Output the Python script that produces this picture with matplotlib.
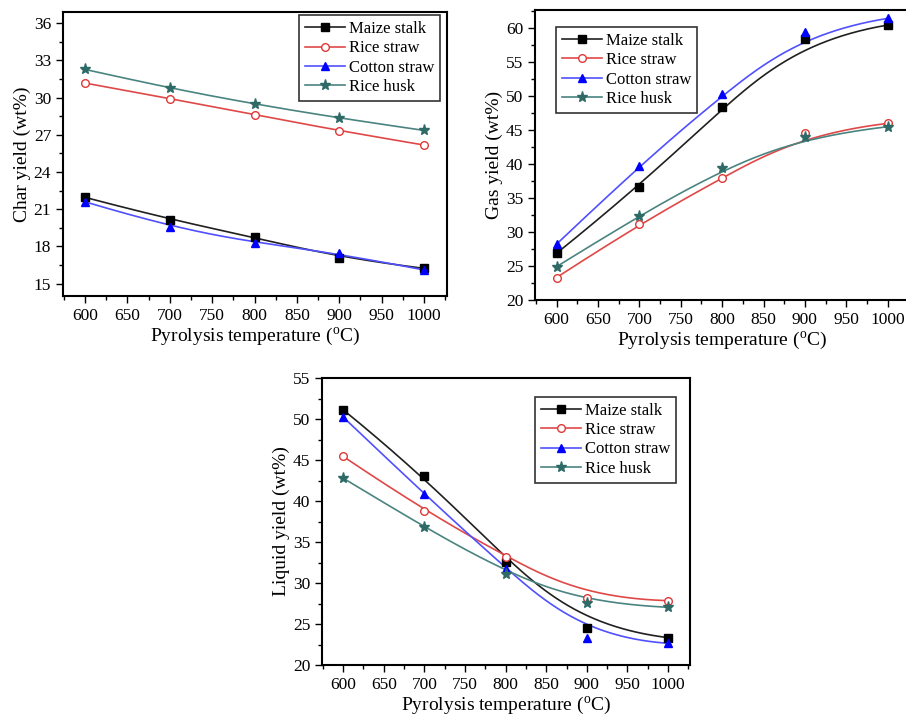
import numpy as np
import matplotlib
matplotlib.use('Agg')
import matplotlib.pyplot as plt
from matplotlib.ticker import MultipleLocator, AutoMinorLocator

# Pyrolysis temperatures (deg C)
temperature = [600, 700, 800, 900, 1000]
seriesNames = ['Maize stalk', 'Rice straw', 'Cotton straw', 'Rice husk']

# Char yield (wt%)
charMaize = [21.96, 20.16, 18.77, 17.09, 16.23]
charRiceStraw = [31.18, 29.93, 28.64, 27.33, 26.18]
charCotton = [21.60, 19.57, 18.26, 17.43, 16.10]
charRiceHusk = [32.28, 30.76, 29.47, 28.35, 27.36]

# Gas yield (wt%)
gasMaize = [26.86, 36.65, 48.40, 58.34, 60.39]
gasRiceStraw = [23.30, 31.17, 37.97, 44.48, 45.95]
gasCotton = [28.20, 39.74, 50.21, 59.41, 61.37]
gasRiceHusk = [24.90, 32.40, 39.44, 44.00, 45.46]

# Liquid yield (wt%)
liquidMaize = [51.13, 43.07, 32.60, 24.56, 23.34]
liquidRiceStraw = [45.44, 38.80, 33.23, 28.14, 27.85]
liquidCotton = [50.24, 40.84, 31.72, 23.34, 22.65]
liquidRiceHusk = [42.79, 36.81, 31.07, 27.53, 27.04]

plt.rcParams['font.family'] = ['Liberation Serif', 'DejaVu Serif']
plt.rcParams['mathtext.fontset'] = 'custom'
plt.rcParams['mathtext.rm'] = 'Liberation Serif'

# line colour, marker colour, marker, filled?
styles = [
    ('#202020', '#000000', 's', True),
    ('#e04848', '#e03838', 'o', False),
    ('#5050ff', '#0000ff', '^', True),
    ('#4a8480', '#2e6a66', '*', True),
]


def bspline(xs, ys, n=300):
    # clamped cubic B-spline using the data points as control points (Origin style)
    P = np.column_stack([xs, ys]).astype(float)
    k = 3
    m = len(P)
    knots = np.concatenate([[0.0] * k, np.linspace(0, 1, m - k + 1), [1.0] * k])
    t = np.linspace(0, 1, n)
    t[-1] = 1 - 1e-10
    N = np.zeros((n, len(knots) - 1))
    for i in range(len(knots) - 1):
        N[:, i] = (t >= knots[i]) & (t < knots[i + 1])
    for d in range(1, k + 1):
        Nn = np.zeros((n, len(knots) - 1 - d))
        for i in range(len(knots) - 1 - d):
            a = knots[i + d] - knots[i]
            b = knots[i + d + 1] - knots[i + 1]
            left = (t - knots[i]) / a * N[:, i] if a > 0 else 0
            right = (knots[i + d + 1] - t) / b * N[:, i + 1] if b > 0 else 0
            Nn[:, i] = left + right
        N = Nn
    C = N.dot(P)
    return C[:, 0], C[:, 1]


def draw(ax, data, ylabel, ylim, ystep, legendPos):
    for (name, ys, st) in zip(seriesNames, data, styles):
        lc, mc, mk, filled = st
        cx, cy = bspline(temperature, ys)
        ax.plot(cx, cy, color=lc, lw=1.2, zorder=2)
        ms = 8 if mk == '*' else 5.5
        ax.plot(temperature, ys, ls='none', marker=mk, ms=ms,
                mfc=mc if filled else 'white', mec=mc, mew=1.0, zorder=3)
        ax.plot([], [], color=lc, lw=1.2, marker=mk, ms=ms,
                mfc=mc if filled else 'white', mec=mc, mew=1.0, label=name)
    ax.set_xlim(574, 1027)
    ax.set_ylim(*ylim)
    ax.xaxis.set_major_locator(MultipleLocator(50))
    ax.xaxis.set_minor_locator(AutoMinorLocator(2))
    ax.yaxis.set_major_locator(MultipleLocator(ystep))
    ax.yaxis.set_minor_locator(AutoMinorLocator(2))
    ax.tick_params(which='both', direction='out', top=False, right=False, labelsize=12.5, width=1.0)
    ax.tick_params(which='major', length=5)
    ax.tick_params(which='minor', length=3)
    for s in ax.spines.values():
        s.set_linewidth(1.5)
    ax.set_xlabel(r'Pyrolysis temperature ($^{\rm o}$C)', fontsize=14, labelpad=1)
    ax.set_ylabel(ylabel, fontsize=14, labelpad=2)
    leg = ax.legend(loc='upper left', bbox_to_anchor=legendPos, borderaxespad=0,
                    fontsize=12, fancybox=False, edgecolor='#333333', framealpha=1,
                    handlelength=2.4, handletextpad=0.25, labelspacing=0.2, borderpad=0.35)
    leg.get_frame().set_linewidth(1.2)


fig = plt.figure(figsize=(9.06, 7.15), dpi=100)

ax1 = fig.add_axes([0.0695, 0.586, 0.4238, 0.397])
draw(ax1, [charMaize, charRiceStraw, charCotton, charRiceHusk],
     'Char yield (wt%)', (14.0, 36.9), 3, (0.615, 0.989))

ax2 = fig.add_axes([0.5905, 0.5804, 0.414, 0.4056])
draw(ax2, [gasMaize, gasRiceStraw, gasCotton, gasRiceHusk],
     'Gas yield (wt%)', (20, 62.6), 5, (0.056, 0.941))

ax3 = fig.add_axes([0.3554, 0.0699, 0.4062, 0.4014])
draw(ax3, [liquidMaize, liquidRiceStraw, liquidCotton, liquidRiceHusk],
     'Liquid yield (wt%)', (20, 55), 5, (0.579, 0.934))

fig.savefig('out.png', dpi=100)
